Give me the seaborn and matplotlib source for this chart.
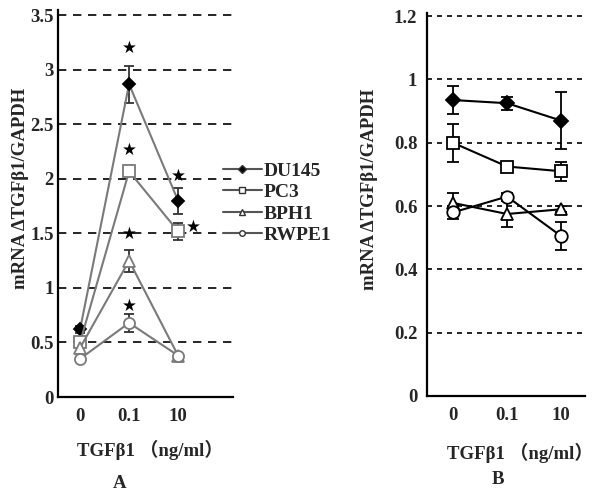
import matplotlib
matplotlib.use("Agg")
import matplotlib.pyplot as plt
import seaborn as sns
import pandas as pd
from matplotlib.lines import Line2D

# ---------------- data ----------------
doses = ["0", "0.1", "10"]
series = ["DU145", "PC3", "BPH1", "RWPE1"]

# Panel A
a_du145 = [0.62, 2.87, 1.80]
a_pc3 = [0.50, 2.07, 1.52]
a_bph1 = [0.45, 1.25, 0.38]
a_rwpe1 = [0.35, 0.68, 0.38]
a_du145_err = [0.03, 0.17, 0.12]
a_pc3_err = [0.04, 0.04, 0.08]
a_bph1_err = [0.03, 0.10, 0.02]
a_rwpe1_err = [0.02, 0.08, 0.02]
a_star_x = [1, 1, 1, 1, 2, 2.32]
a_star_y = [3.20, 2.27, 1.50, 0.84, 2.03, 1.56]

# Panel B
b_du145 = [0.935, 0.925, 0.87]
b_pc3 = [0.80, 0.725, 0.71]
b_bph1 = [0.61, 0.575, 0.59]
b_rwpe1 = [0.58, 0.63, 0.505]
b_du145_err = [0.045, 0.02, 0.09]
b_pc3_err = [0.06, 0.015, 0.03]
b_bph1_err = [0.03, 0.04, 0.01]
b_rwpe1_err = [0.02, 0.01, 0.045]

a_yticks = [0, 0.5, 1, 1.5, 2, 2.5, 3, 3.5]
a_yticklabels = ["0", "0.5", "1", "1.5", "2", "2.5", "3", "3.5"]
b_yticks = [0, 0.2, 0.4, 0.6, 0.8, 1.0, 1.2]
b_yticklabels = ["0", "0.2", "0.4", "0.6", "0.8", "1", "1.2"]

ylabel = "mRNA \u0394TGF\u03b21/GAPDH"
xlabel = "TGF\u03b21 \uff08ng/ml\uff09"

# ---------------- style ----------------
sns.set_style("white")
plt.rcParams["font.family"] = ["Liberation Serif", "Noto Sans CJK SC", "DejaVu Sans"]
plt.rcParams["font.weight"] = "bold"

FS = 13.5
markers = {"DU145": "D", "PC3": "s", "BPH1": "^", "RWPE1": "o"}
filled = {"DU145": True, "PC3": False, "BPH1": False, "RWPE1": False}

def make_df(vals, errs):
    rows = []
    for s, v, e in zip(series, vals, errs):
        for i, d in enumerate(doses):
            rows.append({"series": s, "pos": i, "dose": d, "value": v[i], "err": e[i]})
    return pd.DataFrame(rows)

dfA = make_df([a_du145, a_pc3, a_bph1, a_rwpe1],
              [a_du145_err, a_pc3_err, a_bph1_err, a_rwpe1_err])
dfB = make_df([b_du145, b_pc3, b_bph1, b_rwpe1],
              [b_du145_err, b_pc3_err, b_bph1_err, b_rwpe1_err])

fig = plt.figure(figsize=(6.01, 4.95), dpi=100)
axA = fig.add_axes([58 / 601, 98 / 495, 175 / 601, 387 / 495])
axB = fig.add_axes([427 / 601, 99 / 495, 158 / 601, 383 / 495])

def draw(ax, df, line_color, err_color, ms, dashes, capsize, ypad):
    for s in series:
        d = df[df["series"] == s]
        ax.errorbar(d["pos"], d["value"], yerr=d["err"], fmt="none",
                    ecolor=err_color, elinewidth=1.3, capsize=capsize, capthick=1.3, zorder=2)
        sns.lineplot(data=d, x="pos", y="value", ax=ax, color=line_color,
                     marker=markers[s], markersize=ms if s != "DU145" else ms - 2,
                     markerfacecolor=("black" if filled[s] else "white"),
                     markeredgecolor=(line_color if not filled[s] else "black"),
                     markeredgewidth=1.3, linewidth=1.5, errorbar=None,
                     estimator=None, legend=False, zorder=3)
    ax.yaxis.grid(True, color="black", linestyle=(0, dashes), linewidth=1.2)
    ax.xaxis.grid(False)
    ax.set_axisbelow(True)
    for sp in ["top", "right"]:
        ax.spines[sp].set_visible(False)
    for sp in ["left", "bottom"]:
        ax.spines[sp].set_color("black")
        ax.spines[sp].set_linewidth(1.6)
    ax.set_xticks(range(len(doses)))
    ax.set_xticklabels(doses)
    ax.tick_params(axis="both", length=0, labelsize=FS)
    ax.tick_params(axis="x", pad=8)
    ax.tick_params(axis="y", pad=ypad)
    for lab in ax.get_xticklabels() + ax.get_yticklabels():
        lab.set_fontweight("bold")
    ax.set_ylabel(ylabel, fontsize=FS, fontweight="bold")
    ax.set_xlabel(xlabel, fontsize=FS, fontweight="bold")

draw(axA, dfA, "#7a7a7a", "#333333", 8, (5, 4), 3.5, 3)
axA.set_xlim(-0.45, 3.12)
axA.set_ylim(0, 3.55)
axA.set_yticks(a_yticks)
axA.set_yticklabels(a_yticklabels)
axA.xaxis.set_label_coords(0.526, -0.111)
axA.yaxis.set_label_coords(-0.167, 0.54)
for sx, sy in zip(a_star_x, a_star_y):
    axA.text(sx, sy, "\u2605", ha="center", va="center", fontsize=12,
             family="DejaVu Sans", color="black", zorder=5)

draw(axB, dfB, "black", "black", 9, (3, 3), 4.5, 7)
axB.set_xlim(-0.48, 2.44)
axB.set_ylim(0, 1.21)
axB.set_yticks(b_yticks)
axB.set_yticklabels(b_yticklabels)
axB.xaxis.set_label_coords(0.59, -0.123)
axB.yaxis.set_label_coords(-0.31, 0.54)

# legend
handles = []
for s in series:
    handles.append(Line2D([0], [0], color="#555555", linewidth=1.5, marker=markers[s],
                          markersize=4, markerfacecolor=("black" if filled[s] else "white"),
                          markeredgecolor="#333333", markeredgewidth=1.0))
fig.legend(handles, series, loc="upper left", bbox_to_anchor=(223 / 601, 1 - 162 / 495),
           frameon=False, handlelength=2.0, handletextpad=0.08, labelspacing=0.2,
           borderpad=0, borderaxespad=0,
           prop={"family": "Liberation Serif", "weight": "bold", "size": 14})

fig.text(120 / 601, 1 - 483 / 495, "A", ha="center", va="center", fontsize=FS, fontweight="bold")
fig.text(498 / 601, 1 - 479 / 495, "B", ha="center", va="center", fontsize=FS, fontweight="bold")

fig.savefig("out.png", dpi=100)
